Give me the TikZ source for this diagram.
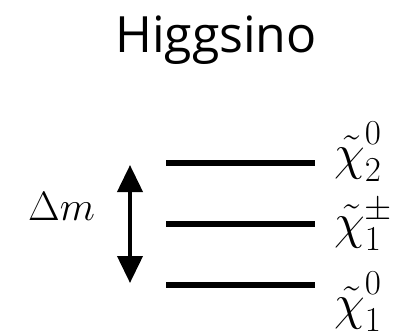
\RequirePackage{fix-cm}
\documentclass[tikz,border=0pt]{standalone}
\usepackage{fix-cm}
\usepackage{fontspec}
\newfontfamily\titlefont{Open Sans}
\usetikzlibrary{arrows.meta}
\newcommand{\upsup}[1]{\raisebox{6pt}{$\scriptstyle #1$}}
\tikzset{
  level/.style={line width=6.5pt},
  gap/.style={line width=4pt,{Triangle[length=27pt,width=25pt]}-{Triangle[length=27pt,width=25pt]}},
  lbl/.style={anchor=base west,inner sep=0pt,font=\fontsize{50}{56}\selectfont},
}
\begin{document}
\begin{tikzpicture}[x=1pt,y=1pt]
\useasboundingbox (0,0) rectangle (393,335);
\node[anchor=base,inner sep=0pt,font=\titlefont\fontsize{50}{58}\selectfont] (title) at (216,282) {Higgsino};
\coordinate (l1a) at (166,172); \coordinate (l1b) at (315,172);
\coordinate (l2a) at (166,111); \coordinate (l2b) at (315,111);
\coordinate (l3a) at (166,50);  \coordinate (l3b) at (315,50);
\draw[level] (l1a) -- (l1b);
\draw[level] (l2a) -- (l2b);
\draw[level] (l3a) -- (l3b);
\coordinate (atop) at (130,170);
\coordinate (abot) at (130,52);
\draw[gap] (abot) -- (atop);
\node[anchor=base west,inner sep=0pt,font=\fontsize{41}{48}\selectfont] (dm) at (28,115) {$\Delta m$};
\node[lbl] (c20) at (334,166) {$\tilde\chi^{\upsup{0}}_2$};
\node[lbl] (c1p) at (334,97) {$\tilde\chi^{\pm}_1$};
\node[lbl] (c10) at (334,16) {$\tilde\chi^{\upsup{0}}_1$};
\end{tikzpicture}
\end{document}
